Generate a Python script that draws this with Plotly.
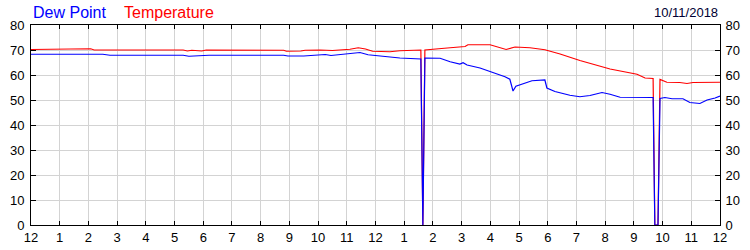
import plotly.graph_objects as go

# Hours since midnight
temp_hours = [0, 2.0, 2.08, 2.2, 5.3, 5.45, 5.6, 5.95, 6.1, 8.8, 8.9, 9.4, 9.55, 10.07, 10.3, 10.5,
              11.11, 11.4, 11.65, 11.9, 12.5, 12.85, 13.58, 13.65, 13.72, 14.25, 14.6, 15.12, 15.22,
              15.99, 16.34, 16.55, 16.86, 17.38, 17.9, 18.43, 19.12, 20.17, 21.11, 21.39, 21.67,
              21.73, 21.84, 21.91, 22.15, 22.6, 22.85, 23.06, 24.0]
temp_vals = [70.2, 70.2, 70.5, 70.0, 70.0, 69.6, 69.9, 69.6, 70.0, 69.9, 69.5, 69.6, 69.9, 70.0, 70.0, 69.8,
             70.3, 70.9, 70.4, 69.5, 69.3, 69.7, 70.0, 0, 70.0, 70.4, 70.9, 71.4, 72.1,
             72.1, 71.0, 70.2, 71.2, 70.9, 70.1, 68.4, 65.8, 62.4, 60.3, 58.8, 58.6,
             0, 0, 58.2, 57.1, 57.0, 56.6, 57.0, 57.1]

dew_hours = [0, 2.5, 2.75, 5.3, 5.5, 5.8, 6.2, 8.8, 8.95, 9.5, 10.07, 10.25, 10.45, 11.11, 11.46,
             11.74, 12.16, 12.85, 13.58, 13.65, 13.72, 14.25, 14.6, 14.94, 15.05, 15.19, 15.64,
             15.99, 16.51, 16.68, 16.79, 16.89, 17.21, 17.45, 17.9, 17.97, 18.25, 18.77, 19.12,
             19.47, 19.89, 20.17, 20.52, 21.2, 21.67, 21.73, 21.84, 21.91, 22.08, 22.33, 22.71,
             22.95, 23.3, 23.55, 23.83, 24.0]
dew_vals = [68.3, 68.3, 67.9, 67.9, 67.5, 67.6, 67.9, 67.9, 67.6, 67.6, 67.9, 68.2, 67.8, 68.6, 69.0,
            68.1, 67.6, 66.8, 66.4, 0, 66.8, 66.7, 65.3, 64.4, 64.9, 64.0, 62.8,
            61.4, 59.3, 58.3, 53.6, 55.5, 56.6, 57.7, 58.0, 54.8, 53.4, 51.9, 51.3,
            51.8, 53.0, 52.3, 51.1, 51.0, 51.0, 0, 0, 50.6, 51.0, 50.5, 50.5,
            49.0, 48.6, 50.0, 50.8, 51.6]

tick_hours = list(range(25))
tick_labels = ["12"] + [str(i) for i in range(1, 12)] + ["12"] + [str(i) for i in range(1, 12)] + ["12"]
y_ticks = list(range(0, 81, 10))

font = "Liberation Sans, Arial, sans-serif"

fig = go.Figure()
fig.add_trace(go.Scatter(x=dew_hours, y=dew_vals, mode="lines", yaxis="y2",
                         line=dict(color="#0000ff", width=1.2), name="Dew Point"))
fig.add_trace(go.Scatter(x=temp_hours, y=temp_vals, mode="lines",
                         line=dict(color="#ff0000", width=1.2), name="Temperature"))

axis_common = dict(showline=True, linecolor="black", linewidth=1, ticks="inside",
                   tickcolor="black", tickfont=dict(family=font, size=13, color="#000000"),
                   zeroline=False, automargin=False)

fig.update_layout(
    width=750, height=250,
    margin=dict(l=31, r=30, t=25, b=25, autoexpand=False),
    paper_bgcolor="white", plot_bgcolor="white",
    showlegend=False,
    xaxis=dict(range=[0, 24], tickvals=tick_hours, ticktext=tick_labels, ticklen=4,
               mirror="ticks", showgrid=True, gridcolor="#d3d3d3", gridwidth=1, **axis_common),
    yaxis=dict(range=[0, 80], tickvals=y_ticks, ticklen=5, side="left", ticklabelstandoff=3,
               showgrid=True, gridcolor="#d3d3d3", gridwidth=1, **axis_common),
    yaxis2=dict(range=[0, 80], tickvals=y_ticks, ticklen=5, side="right", overlaying="y",
                ticklabelstandoff=2, showgrid=False, **axis_common),
    annotations=[
        dict(text="Dew Point", x=0, y=1, xref="paper", yref="paper", xanchor="left",
             yanchor="middle", xshift=0, yshift=13, showarrow=False,
             font=dict(family=font, size=16, color="#0000ff")),
        dict(text="Temperature", x=0, y=1, xref="paper", yref="paper", xanchor="left",
             yanchor="middle", xshift=91, yshift=13, showarrow=False,
             font=dict(family=font, size=16, color="#ff0000")),
        dict(text="10/11/2018", x=1, y=1, xref="paper", yref="paper", xanchor="right",
             yanchor="middle", xshift=0, yshift=13, showarrow=False,
             font=dict(family=font, size=13, color="#000033")),
    ],
)

fig.write_html("out.html")
